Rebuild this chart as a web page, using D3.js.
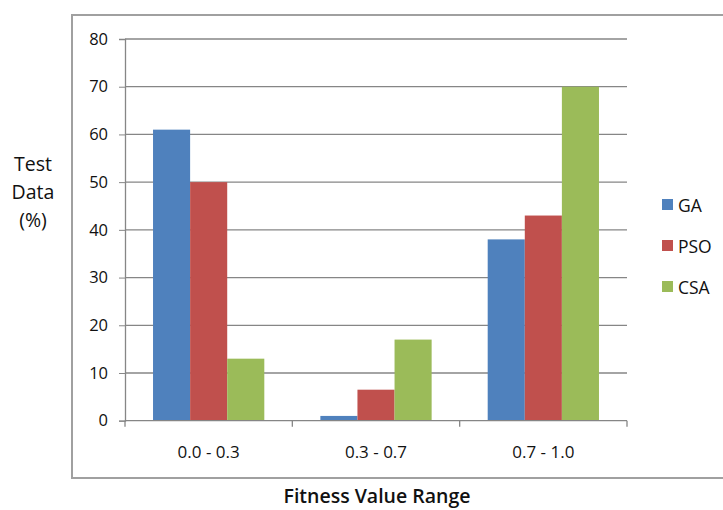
<!DOCTYPE html>
<html><head><meta charset="utf-8">
<script src="https://cdn.jsdelivr.net/npm/d3@7"></script>
<style>body{margin:0;background:#fff}svg{display:block}text{font-family:"Open Sans",Lato,sans-serif;fill:#111}</style>
</head><body><svg id="c" width="723" height="510"></svg>
<script>
const categories = ["0.0 - 0.3", "0.3 - 0.7", "0.7 - 1.0"];
const seriesNames = ["GA", "PSO", "CSA"];
const GA = [61, 1, 38];
const PSO = [50, 6.5, 43];
const CSA = [13, 17, 70];
const colors = ["#4F81BD", "#C0504D", "#9BBB59"];
const yTicks = [0, 10, 20, 30, 40, 50, 60, 70, 80];

const svg = d3.select("#c");
const m = {l:125, r:627, t:39, b:420.7};
// frame
svg.append("rect").attr("x",72).attr("y",15).attr("width",700).attr("height",463)
  .attr("fill","none").attr("stroke","#a0a0a0").attr("stroke-width",2);

const x = d3.scaleBand().domain(categories).range([m.l, m.r]).paddingInner(0.335).paddingOuter(0.1675);
const xs = d3.scaleBand().domain(seriesNames).range([0, x.bandwidth()]);
const y = d3.scaleLinear().domain([0, 80]).range([m.b, m.t]);

// gridlines
svg.append("g").selectAll("line").data(yTicks.filter(d=>d>0)).join("line")
  .attr("x1", m.l).attr("x2", m.r).attr("y1", d=>y(d)).attr("y2", d=>y(d))
  .attr("stroke","#868686").attr("stroke-width",1.3);

// y axis
const ya = svg.append("g").attr("transform",`translate(${m.l},0)`)
  .call(d3.axisLeft(y).tickValues(yTicks).tickSize(6).tickPadding(11));
ya.select(".domain").attr("stroke","#868686").attr("stroke-width",1.3);
ya.selectAll(".tick line").attr("stroke","#868686");
ya.selectAll("text").style("font-size","16.5px").attr("fill","#111");

// bars
const data = [GA, PSO, CSA];
seriesNames.forEach((s,i)=>{
  svg.append("g").selectAll("rect").data(categories).join("rect")
    .attr("x", c=>x(c)+xs(s)).attr("width", xs.bandwidth())
    .attr("y", (c,j)=>y(data[i][j])).attr("height", (c,j)=>y(0)-y(data[i][j]))
    .attr("fill", colors[i]);
});

// x axis
const step = (m.r - m.l)/categories.length;
const xa = svg.append("g").attr("transform",`translate(0,${m.b})`);
xa.append("line").attr("x1",m.l).attr("x2",m.r).attr("stroke","#868686").attr("stroke-width",1.3);
xa.selectAll("line.t").data(d3.range(categories.length+1)).join("line").attr("class","t")
  .attr("x1",i=>m.l+i*step).attr("x2",i=>m.l+i*step).attr("y1",0).attr("y2",6)
  .attr("stroke","#868686").attr("stroke-width",1.3);
xa.selectAll("text").data(categories).join("text")
  .attr("x", c=>x(c)+x.bandwidth()/2).attr("y", 37).attr("text-anchor","middle")
  .style("font-size","17px").text(d=>d);

// axis titles
const yt = svg.append("text").attr("text-anchor","middle").style("font-size","19.5px");
["Test","Data","(%)"].forEach((t,i)=>yt.append("tspan").attr("x",33).attr("y",171+i*28).text(t));
svg.append("text").attr("x",377).attr("y",503).attr("text-anchor","middle")
  .style("font-size","19.5px").style("font-weight","600").text("Fitness Value Range");

// legend
const lg = svg.append("g");
seriesNames.forEach((s,i)=>{
  const yy = 205 + i*41;
  lg.append("rect").attr("x",662).attr("y",yy-6).attr("width",11).attr("height",11).attr("fill",colors[i]);
  lg.append("text").attr("x",678).attr("y",yy+6.5).style("font-size","17.5px").text(s);
});
</script></body></html>
